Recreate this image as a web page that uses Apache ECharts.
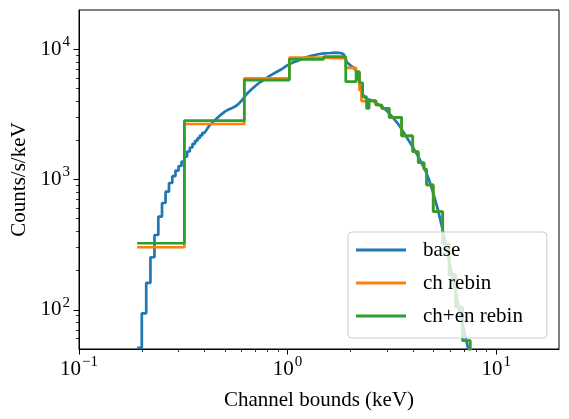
<!DOCTYPE html>
<html>
<head>
<meta charset="utf-8">
<script src="https://cdn.jsdelivr.net/npm/echarts@6/dist/echarts.min.js"></script>
<style>
  html, body { margin: 0; padding: 0; background: #fff; }
  #chart { width: 569px; height: 419px; }
</style>
</head>
<body>
<div id="chart"></div>
<script>
// base spectrum: fine channels at low energy (steps visible), sampled points above
const baseStepEdges = [0.19, 0.20, 0.21, 0.22, 0.23, 0.24, 0.25, 0.26, 0.27, 0.28, 0.29, 0.30,
  0.31, 0.32, 0.33, 0.34, 0.35, 0.36, 0.37, 0.38, 0.39, 0.40];
const baseStepRates = [51, 94, 161, 253, 375, 519, 660, 806, 940, 1060, 1170, 1270,
  1370, 1500, 1640, 1760, 1880, 1980, 2080, 2180, 2280];
const baseEnergy = [0.42, 0.44, 0.46, 0.48, 0.50, 0.52, 0.54, 0.56, 0.58, 0.60,
  0.62, 0.64, 0.67, 0.70, 0.74, 0.78, 0.82, 0.88, 0.94, 1.00,
  1.06, 1.12, 1.2, 1.3, 1.4, 1.5, 1.6, 1.7, 1.8, 1.86,
  1.92, 2.0, 2.08, 2.13, 2.18, 2.23, 2.28, 2.33, 2.4, 2.5,
  2.6, 2.7, 2.85, 3.0, 3.2, 3.4, 3.6, 3.8, 4.0, 4.2,
  4.4, 4.6, 4.8, 5.0, 5.25, 5.5, 5.8, 6.1, 6.4, 6.7,
  7.0, 7.3, 7.6];
const baseRate = [2570, 2770, 2960, 3150, 3320, 3440, 3530, 3630, 3790, 4000,
  4280, 4570, 4900, 5220, 5600, 5900, 6250, 6650, 7050, 7550,
  7900, 8150, 8550, 8900, 9150, 9300, 9350, 9400, 9350, 9100,
  8000, 7500, 7200, 6800, 6000, 5200, 4600, 4300, 4150, 4080,
  3950, 3800, 3600, 3350, 2980, 2650, 2300, 2000, 1750, 1530,
  1330, 1150, 960, 780, 590, 430, 290, 195, 135, 95,
  70, 52, 40];

// channel rebin
const chEdges = [0.19, 0.32, 0.62, 1.02, 1.49, 1.9, 2.13, 2.21, 2.26, 2.33, 2.65, 2.83, 3.07,
  3.52, 3.98, 4.23, 4.51, 4.64, 4.99, 5.54, 5.95, 6.4, 6.9, 7.5, 8.1];
const chRates = [302, 2667, 5980, 8610, 8515, 7180, 6600, 4860, 3990, 4020, 3730, 3520,
  3000, 2160, 1635, 1346, 1198, 908, 566, 320, 185, 105, 58, 35];

// channel + energy rebin
const chEnEdges = [0.19, 0.32, 0.62, 1.02, 1.49, 1.9, 2.13, 2.21, 2.29, 2.39, 2.46, 2.65, 2.83,
  3.07, 3.52, 3.98, 4.23, 4.51, 4.64, 4.99, 5.54, 5.95, 6.4, 6.9, 7.5, 8.1];
const chEnRates = [324, 2830, 5800, 8370, 8760, 5630, 6720, 5530, 4320, 3520, 4030, 3730,
  3520, 3000, 2160, 1635, 1346, 1198, 908, 566, 320, 185, 105, 58, 35];

const xMajor = [0.1, 1, 10];
const xMinor = [0.2, 0.3, 0.4, 0.5, 0.6, 0.7, 0.8, 0.9, 2, 3, 4, 5, 6, 7, 8, 9];
const yMajor = [100, 1000, 10000];
const yMinor = [60, 70, 80, 90, 200, 300, 400, 500, 600, 700, 800, 900,
  2000, 3000, 4000, 5000, 6000, 7000, 8000, 9000];

const FONT = 'Liberation Serif';

function toSteps(edges, rates) {
  const pts = [];
  rates.forEach((r, i) => { pts.push([edges[i], r], [edges[i + 1], r]); });
  return pts;
}

const baseData = toSteps(baseStepEdges, baseStepRates)
  .concat(baseEnergy.map((e, i) => [e, baseRate[i]]));

function powLabel(v) {
  const p = Math.round(Math.log10(v));
  return '{b|10}{s|' + (p < 0 ? '\u2212' + (-p) : p) + '}';
}
const powRich = {
  b: { fontFamily: FONT, fontSize: 21, color: '#000' },
  s: { fontFamily: FONT, fontSize: 15, color: '#000', padding: [0, 0, 14, 1] }
};

function majorAxis(min, max, ticks, name, gap, labelMargin) {
  return {
    type: 'log', min: min, max: max,
    name: name, nameLocation: 'middle', nameGap: gap,
    nameTextStyle: { fontFamily: FONT, fontSize: 21, color: '#000' },
    axisLine: { show: true, lineStyle: { color: '#000', width: 1 } },
    axisTick: { show: true, length: 5.5, customValues: ticks, lineStyle: { color: '#000', width: 1 } },
    axisLabel: { customValues: ticks, margin: labelMargin, formatter: powLabel, rich: powRich },
    splitLine: { show: false },
    minorTick: { show: false }
  };
}
function minorAxis(min, max, ticks, position) {
  return {
    type: 'log', min: min, max: max, position: position,
    axisLine: { show: false },
    axisTick: { show: true, length: 3, customValues: ticks, lineStyle: { color: '#000', width: 0.8 } },
    axisLabel: { show: false },
    splitLine: { show: false }
  };
}

const chart = echarts.init(document.getElementById('chart'), null, { renderer: 'canvas' });
chart.setOption({
  animation: false,
  textStyle: { fontFamily: FONT },
  grid: { left: 79, right: 10, top: 10, bottom: 70, show: true, borderColor: '#000', borderWidth: 1 },
  xAxis: [
    Object.assign(majorAxis(0.1, 20, xMajor, 'Channel bounds (keV)', 41, 6), { position: 'bottom' }),
    minorAxis(0.1, 20, xMinor, 'bottom')
  ],
  yAxis: [
    Object.assign(majorAxis(50, 20000, yMajor, 'Counts/s/keV', 45, 9), { position: 'left' }),
    minorAxis(50, 20000, yMinor, 'left')
  ],
  legend: {
    left: 348, top: 232, orient: 'vertical',
    padding: [6, 24, 10, 8],
    icon: 'rect', itemWidth: 50, itemHeight: 3, itemGap: 9,
    backgroundColor: 'rgba(255,255,255,0.8)',
    borderColor: '#cccccc', borderWidth: 1, borderRadius: 4,
    textStyle: { fontFamily: FONT, fontSize: 21, color: '#000', lineHeight: 24, padding: [0, 0, 0, 12] },
    data: ['base', 'ch rebin', 'ch+en rebin']
  },
  series: [
    { name: 'base', type: 'line', data: baseData, symbol: 'none', color: '#1f77b4',
      lineStyle: { width: 2.7, color: '#1f77b4' }, clip: true },
    { name: 'ch rebin', type: 'line', data: toSteps(chEdges, chRates), symbol: 'none', color: '#ff7f0e',
      lineStyle: { width: 2.7, color: '#ff7f0e' }, clip: true },
    { name: 'ch+en rebin', type: 'line', data: toSteps(chEnEdges, chEnRates), symbol: 'none', color: '#2ca02c',
      lineStyle: { width: 2.7, color: '#2ca02c' }, clip: true }
  ]
});
</script>
</body>
</html>
